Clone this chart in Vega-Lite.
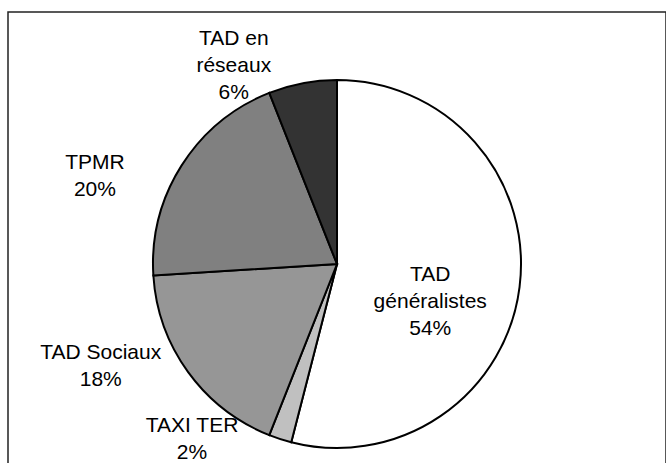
{
  "$schema": "https://vega.github.io/schema/vega-lite/v6.json",
  "autosize": "none",
  "width": 658,
  "height": 504,
  "padding": {"left": 8, "top": 12, "right": 0, "bottom": 0},
  "background": "white",
  "view": {"stroke": "#222222", "strokeWidth": 1.5},
  "config": {"view": {"stroke": "#222222", "strokeWidth": 1.5}, "style": {"cell": {"stroke": "#222222", "strokeWidth": 1.5}}},
  "data": {"values": [
    {"category": "TAD généralistes", "value": 54, "order": 1, "label": "TAD\ngénéralistes\n54%"},
    {"category": "TAXI TER", "value": 2, "order": 2, "label": "TAXI TER\n2%"},
    {"category": "TAD Sociaux", "value": 18, "order": 3, "label": "TAD Sociaux\n18%"},
    {"category": "TPMR", "value": 20, "order": 4, "label": "TPMR\n20%"},
    {"category": "TAD en réseaux", "value": 6, "order": 5, "label": "TAD en\nréseaux\n6%"}
  ]},
  "encoding": {
    "theta": {"field": "value", "type": "quantitative", "stack": true},
    "order": {"field": "order", "type": "quantitative"}
  },
  "layer": [
    {
      "mark": {"type": "arc", "outerRadius": 184, "stroke": "black", "strokeWidth": 2},
      "encoding": {
        "color": {"field": "category", "type": "nominal", "legend": null,
          "scale": {"domain": ["TAD généralistes", "TAXI TER", "TAD Sociaux", "TPMR", "TAD en réseaux"],
                    "range": ["#ffffff", "#c0c0c0", "#969696", "#808080", "#333333"]}}
      }
    },
    {
      "mark": {"type": "text", "radius": 100, "dx": -6, "dy": -2, "font": "Liberation Sans", "fontSize": 21, "lineBreak": "\n", "lineHeight": 27, "align": "center", "baseline": "middle", "color": "black"},
      "encoding": {"detail": {"field": "category"}, "text": {"condition": {"test": "datum.category === 'TAD généralistes'", "field": "label"}, "value": ""}}
    },
    {
      "mark": {"type": "text", "radius": 220, "dx": -77, "dy": -47, "font": "Liberation Sans", "fontSize": 21, "lineBreak": "\n", "lineHeight": 27, "align": "center", "baseline": "middle", "color": "black"},
      "encoding": {"detail": {"field": "category"}, "text": {"condition": {"test": "datum.category === 'TAXI TER'", "field": "label"}, "value": ""}}
    },
    {
      "mark": {"type": "text", "radius": 250, "dx": -34, "dy": -58, "font": "Liberation Sans", "fontSize": 21, "lineBreak": "\n", "lineHeight": 27, "align": "center", "baseline": "middle", "color": "black"},
      "encoding": {"detail": {"field": "category"}, "text": {"condition": {"test": "datum.category === 'TAD Sociaux'", "field": "label"}, "value": ""}}
    },
    {
      "mark": {"type": "text", "radius": 250, "dx": -31, "dy": 33, "font": "Liberation Sans", "fontSize": 21, "lineBreak": "\n", "lineHeight": 27, "align": "center", "baseline": "middle", "color": "black"},
      "encoding": {"detail": {"field": "category"}, "text": {"condition": {"test": "datum.category === 'TPMR'", "field": "label"}, "value": ""}}
    },
    {
      "mark": {"type": "text", "radius": 220, "dx": -62, "dy": -9, "font": "Liberation Sans", "fontSize": 21, "lineBreak": "\n", "lineHeight": 27, "align": "center", "baseline": "middle", "color": "black"},
      "encoding": {"detail": {"field": "category"}, "text": {"condition": {"test": "datum.category === 'TAD en réseaux'", "field": "label"}, "value": ""}}
    }
  ]
}
